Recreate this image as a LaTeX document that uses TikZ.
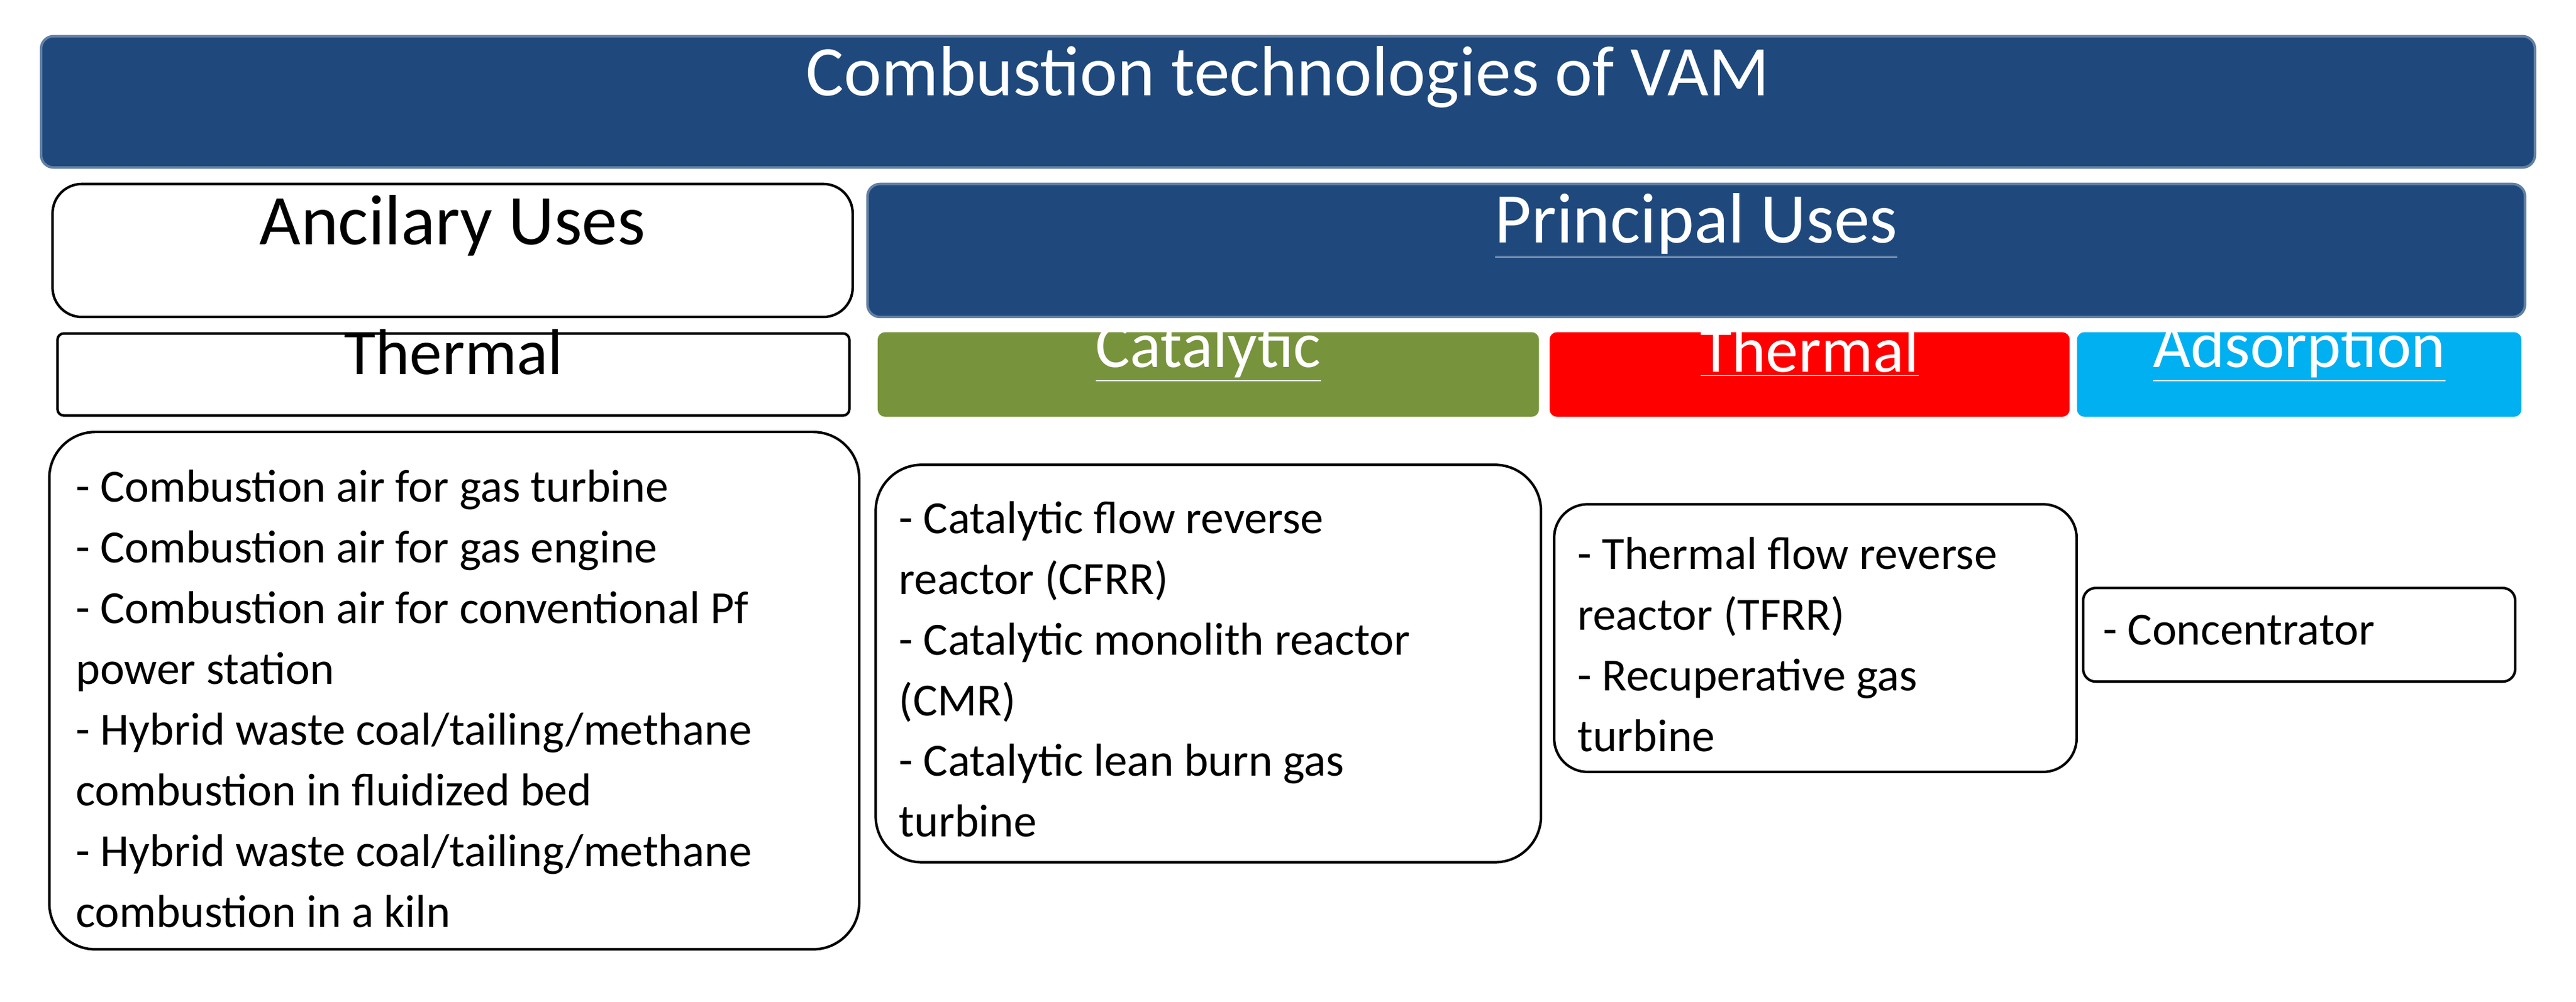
\documentclass[tikz,border=0pt]{standalone}
\usepackage{fontspec}
\setmainfont{Carlito}
\usetikzlibrary{fit}
\definecolor{dblue}{RGB}{31,73,125}
\definecolor{olive}{RGB}{119,147,60}
\definecolor{cyanb}{RGB}{0,176,240}
\definecolor{redb}{RGB}{255,0,0}
\begin{document}
\begin{tikzpicture}[x=0.02757cm,y=-0.02757cm,
  box/.style={inner sep=0pt,rounded corners=6pt,line width=1.2pt},
  head/.style={box,fill=dblue,draw=dblue!70!white,text=white},
  lst/.style={anchor=north west,align=left,inner sep=0pt,font=\fontsize{22}{29}\selectfont},
  big/.style={font=\fontsize{34}{40}\selectfont},
  mid/.style={font=\fontsize{31}{36}\selectfont}]
\useasboundingbox (0,0) rectangle (1568,610);
\node[head,big,fit={(25,22) (1543,102)}] (title) {Combustion technologies of VAM};
\node[box,draw=black,big,rounded corners=14pt,fit={(32,112) (519,193)}] (anc) {Ancilary Uses};
\node[head,big,fit={(528,112) (1537,193)}] (prin) {\underline{Principal Uses}};
\node[box,draw=black,mid,rounded corners=3pt,fit={(35,203) (517,253)}] (th1) {Thermal};
\node[box,fill=olive,draw=olive,text=white,mid,rounded corners=3pt,fit={(535,203) (936,253)}] (cat) {\underline{Catalytic}};
\node[box,fill=redb,draw=redb,text=white,mid,rounded corners=3pt,fit={(944,203) (1259,253)}] (th2) {\underline{Thermal}};
\node[box,fill=cyanb,draw=cyanb,text=white,mid,rounded corners=3pt,fit={(1265,203) (1534,253)}] (ads) {\underline{Adsorption}};
\node[box,draw=black,rounded corners=22pt,fit={(30,263) (523,578)}] (l1) {};
\node[box,draw=black,rounded corners=22pt,fit={(533,283) (938,525)}] (l2) {};
\node[box,draw=black,rounded corners=16pt,fit={(946,307) (1264,470)}] (l3) {};
\node[box,draw=black,rounded corners=6pt,fit={(1268,358) (1531,415)}] (l4) {};
\node[lst] (t1) at (46,286) {- Combustion air for gas turbine\\- Combustion air for gas engine\\- Combustion air for conventional Pf\\power station\\- Hybrid waste coal/tailing/methane\\combustion in fluidized bed\\- Hybrid waste coal/tailing/methane\\combustion in a kiln};
\node[lst] (t2) at (547,305) {- Catalytic flow reverse\\reactor (CFRR)\\- Catalytic monolith reactor\\(CMR)\\- Catalytic lean burn gas\\turbine};
\node[lst] (t3) at (960,327) {- Thermal flow reverse\\reactor (TFRR)\\- Recuperative gas\\turbine};
\node[lst] (t4) at (1280,374) {- Concentrator};
\end{tikzpicture}
\end{document}
